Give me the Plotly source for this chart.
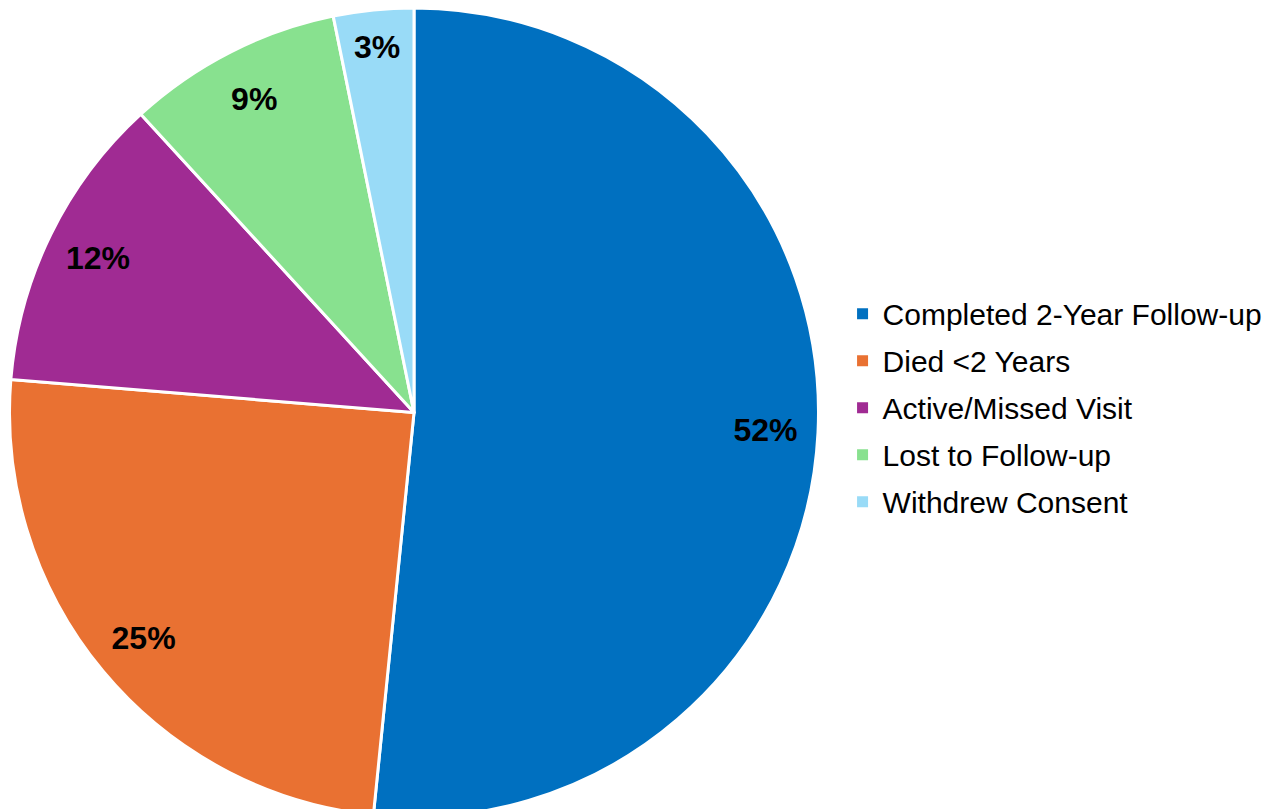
import plotly.graph_objects as go

categories = ["Completed 2-Year Follow-up", "Died <2 Years", "Active/Missed Visit",
              "Lost to Follow-up", "Withdrew Consent"]
values = [51.6, 24.7, 11.9, 8.6, 3.2]
colors = ["#0070C0", "#E97132", "#A02B93", "#88E18F", "#99DBF7"]

x0, x1 = 0 / 1280, 812 / 1280

fig = go.Figure()
fig.add_trace(go.Pie(
    labels=categories, values=values, sort=False, direction="clockwise", rotation=0,
    marker=dict(colors=colors, line=dict(color="white", width=3)),
    textinfo="none", hoverinfo="label+percent",
    domain=dict(x=[x0, x1], y=[0, 1]), showlegend=False,
))
fig.add_trace(go.Pie(
    labels=categories, values=values, sort=False, direction="clockwise", rotation=0,
    hole=0.74,
    marker=dict(colors=["rgba(0,0,0,0)"] * 5, line=dict(width=0)),
    texttemplate="%{percent:.0%}", textposition="inside", insidetextorientation="horizontal",
    textfont=dict(family="Arial, Liberation Sans", size=32, color="black", weight="bold"),
    hoverinfo="skip",
    domain=dict(x=[x0, x1], y=[0, 1]), showlegend=False,
))
# legend entries (one group per category so spacing can be set)
for name, col in zip(categories, colors):
    fig.add_trace(go.Scatter(
        x=[None], y=[None], mode="markers", name=name, legendgroup=name,
        marker=dict(symbol="square", size=11, color=col),
        showlegend=True, hoverinfo="skip",
    ))

fig.update_layout(
    width=1280, height=809,
    margin=dict(l=0, r=0, t=0, b=0),
    paper_bgcolor="white", plot_bgcolor="white",
    xaxis=dict(visible=False), yaxis=dict(visible=False),
    legend=dict(x=0.652, y=0.506, xanchor="left", yanchor="middle",
                bgcolor="rgba(0,0,0,0)", borderwidth=0,
                font=dict(family="Arial, Liberation Sans", size=30, color="black"),
                tracegroupgap=5, traceorder="grouped"),
)
fig.write_html("out.html")
